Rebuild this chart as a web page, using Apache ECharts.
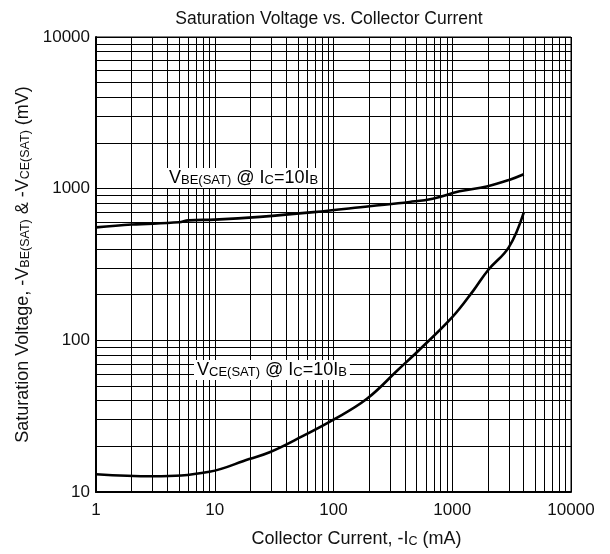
<!DOCTYPE html>
<html>
<head>
<meta charset="utf-8">
<script src="https://cdn.jsdelivr.net/npm/echarts@6/dist/echarts.min.js"></script>
<style>html,body{margin:0;padding:0;background:#fff}#c{width:610px;height:554px}</style>
</head>
<body>
<div id="c"></div>
<script>
var vbeX = [1, 2, 5, 6, 10, 24, 68, 201, 437, 684, 1150, 1950, 3050, 4000];
var vbeY = [556, 580, 600, 618, 625, 652, 700, 766, 817, 859, 960, 1035, 1146, 1245];
var vceX = [1, 3, 9, 19.5, 29, 49, 100, 190, 350, 532, 1000, 1500, 2000, 3000, 4000];
var vceY = [13.1, 12.7, 13.6, 16.5, 18.3, 22.3, 30, 41, 64, 87, 142, 212, 290, 412, 695];
var xDecades = [1, 10, 100, 1000];
var yDecades = [10, 100, 1000];
var minorMult = [2, 3, 4, 5, 6, 7, 8, 9];

var FONT = '"Liberation Sans", Arial, sans-serif';
var minorLines = [];
xDecades.forEach(function (d) { minorMult.forEach(function (m) { minorLines.push({ xAxis: d * m }); }); });
yDecades.forEach(function (d) { minorMult.forEach(function (m) { minorLines.push({ yAxis: d * m }); }); });

function pairs(xs, ys) { return xs.map(function (x, i) { return [x, ys[i]]; }); }

var chart = echarts.init(document.getElementById('c'), null, { renderer: 'canvas' });
var base = { fontFamily: FONT, fontSize: 18, color: '#111' };
var sub = { fontFamily: FONT, fontSize: 12.5, color: '#111', verticalAlign: 'bottom' };
var lblBase = { fontFamily: FONT, fontSize: 18, color: '#111' };
var lblSub = { fontFamily: FONT, fontSize: 13, color: '#111', verticalAlign: 'bottom' };
chart.setOption({
  animation: false,
  title: {
    text: 'Saturation Voltage vs. Collector Current',
    left: 324, top: 5, textAlign: 'center',
    textStyle: { fontFamily: FONT, fontSize: 17.5, fontWeight: 'normal', color: '#111' }
  },
  grid: { left: 96, right: 39, top: 37, bottom: 62, show: true, borderColor: '#000', borderWidth: 1 },
  xAxis: {
    type: 'log', logBase: 10, min: 1, max: 10000,
    axisLine: { show: true, lineStyle: { color: '#000', width: 2 } },
    axisTick: { show: false },
    axisLabel: { margin: 10, fontFamily: FONT, fontSize: 17, color: '#111', formatter: function (v) { return String(v); } },
    splitLine: { show: true, lineStyle: { color: '#000', width: 1 } },
    name: '{a|Collector Current, -I}{s|C}{a| (mA)}',
    nameLocation: 'middle', nameGap: 38,
    nameTextStyle: { padding: [0, 0, 0, 46], rich: { a: base, s: sub } }
  },
  yAxis: {
    type: 'log', logBase: 10, min: 10, max: 10000,
    axisLine: { show: true, lineStyle: { color: '#000', width: 2 } },
    axisTick: { show: false },
    axisLabel: { margin: 6, fontFamily: FONT, fontSize: 17, color: '#111', formatter: function (v) { return String(v); } },
    splitLine: { show: true, lineStyle: { color: '#000', width: 1 } },
    name: '{a|Saturation Voltage, -V}{s|BE(SAT)}{a| & -V}{s|CE(SAT)}{a| (mV)}',
    nameLocation: 'middle', nameGap: 60, nameRotate: 90,
    nameTextStyle: { rich: { a: base, s: sub } }
  },
  series: [
    {
      type: 'line', name: 'VBE', data: pairs(vbeX, vbeY), smooth: 0.4, showSymbol: false,
      lineStyle: { color: '#000', width: 2.6 }, z: 5,
      markLine: {
        silent: true, symbol: 'none', label: { show: false },
        lineStyle: { color: '#000', width: 1, type: 'solid' },
        emphasis: { disabled: true },
        data: minorLines
      }
    },
    {
      type: 'line', name: 'VCE', data: pairs(vceX, vceY), smooth: 0.4, showSymbol: false,
      lineStyle: { color: '#000', width: 2.6 }, z: 5
    }
  ],
  graphic: [
    {
      type: 'text', x: 166, y: 168, z: 100,
      style: {
        text: '{a|V}{s|BE(SAT)}{a| @ I}{s|C}{a|=10I}{s|B}',
        rich: { a: lblBase, s: lblSub },
        backgroundColor: '#fff', padding: [1, 3, 1, 3]
      }
    },
    {
      type: 'text', x: 194, y: 360, z: 100,
      style: {
        text: '{a|V}{s|CE(SAT)}{a| @ I}{s|C}{a|=10I}{s|B}',
        rich: { a: lblBase, s: lblSub },
        backgroundColor: '#fff', padding: [1, 3, 1, 3]
      }
    }
  ]
});
</script>
</body>
</html>
